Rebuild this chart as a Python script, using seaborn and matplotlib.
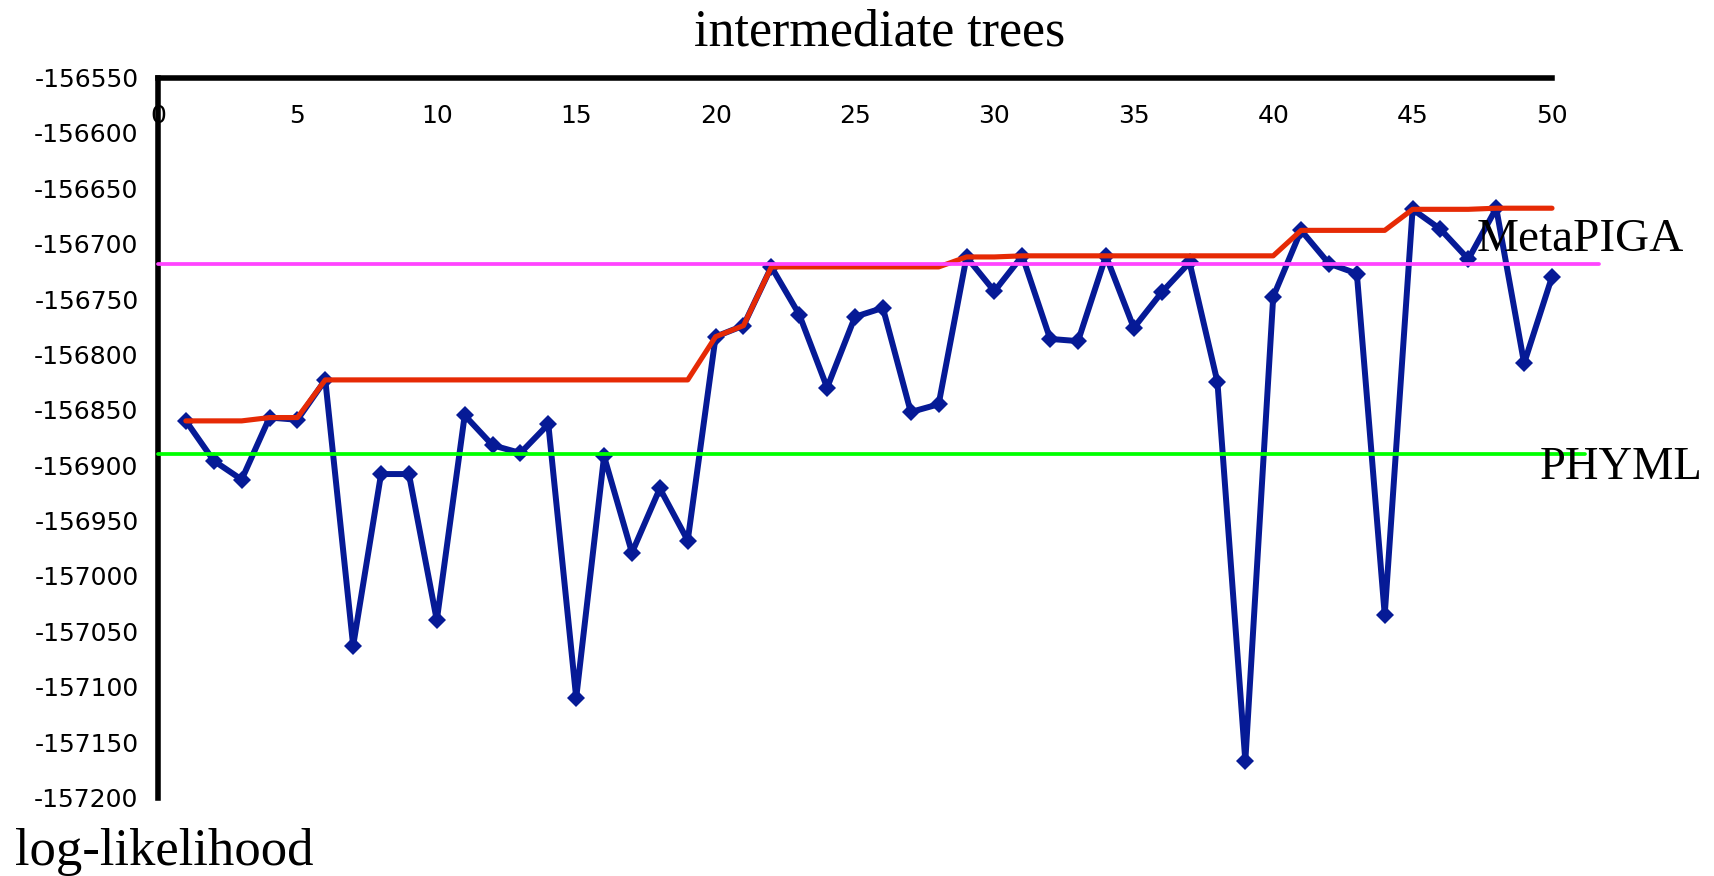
import matplotlib
matplotlib.use("Agg")
import matplotlib.pyplot as plt
import pandas as pd
import seaborn as sns

# Log-likelihood of the intermediate trees (one per generation) and the best value found so far
trees = list(range(1, 51))
intermediate_lnl = [
    -156860, -156896, -156913, -156857, -156859, -156823, -157063, -156908, -156908, -157040,
    -156855, -156882, -156889, -156863, -157110, -156892, -156979, -156921, -156968, -156784,
    -156774, -156721, -156764, -156830, -156766, -156758, -156852, -156845, -156712, -156743,
    -156711, -156786, -156788, -156711, -156776, -156744, -156717, -156825, -157167, -156748,
    -156688, -156718, -156727, -157035, -156669, -156687, -156714, -156668, -156808, -156730,
]
best_lnl = [
    -156860, -156860, -156860, -156857, -156857, -156823, -156823, -156823, -156823, -156823,
    -156823, -156823, -156823, -156823, -156823, -156823, -156823, -156823, -156823, -156784,
    -156774, -156721, -156721, -156721, -156721, -156721, -156721, -156721, -156712, -156712,
    -156711, -156711, -156711, -156711, -156711, -156711, -156711, -156711, -156711, -156711,
    -156688, -156688, -156688, -156688, -156669, -156669, -156669, -156668, -156668, -156668,
]
metapiga_lnl = -156718
phyml_lnl = -156890

x_ticks = [0, 5, 10, 15, 20, 25, 30, 35, 40, 45, 50]
y_ticks = [-157200, -157150, -157100, -157050, -157000, -156950, -156900,
           -156850, -156800, -156750, -156700, -156650, -156600, -156550]
y_tick_labels = ["-157200", "-157150", "-157100", "-157050", "-157000", "-156950", "-156900",
                 "-156850", "-156800", "-156750", "-156700", "-156650", "-156600", "-156550"]

BLUE = "#061A96"
RED = "#E62A05"
PINK = "#FF44FF"
GREEN = "#00FF00"

sns.set_style("white")
plt.rcParams["font.family"] = ["DejaVu Sans"]
plt.rcParams["axes.unicode_minus"] = False
plt.rcParams["text.color"] = "black"

W, H = 1715, 876
fig = plt.figure(figsize=(W / 100, H / 100), dpi=100)
ax = fig.add_axes([158.0 / W, 1 - 797.5 / H, (1552 - 158.0) / W, (797.5 - 77.5) / H])

df = pd.DataFrame({"tree": trees, "lnl": intermediate_lnl, "best": best_lnl})

sns.lineplot(data=df, x="tree", y="lnl", ax=ax, color=BLUE, linewidth=4.3,
             marker="D", markersize=9, markeredgewidth=0, zorder=2, clip_on=False)
sns.lineplot(data=df, x="tree", y="best", ax=ax, color=RED, linewidth=3.7,
             zorder=3, clip_on=False)

ax.axhline(metapiga_lnl, xmin=0, xmax=51.7 / 50, color=PINK, linewidth=2.7,
           clip_on=False, zorder=4)
ax.axhline(phyml_lnl, xmin=0, xmax=51.2 / 50, color=GREEN, linewidth=2.7,
           clip_on=False, zorder=4)

ax.set_xlim(0, 50)
ax.set_ylim(-157200, -156550)
ax.set_xlabel("")
ax.set_ylabel("")

ax.set_xticks(x_ticks)
ax.set_xticklabels([str(t) for t in x_ticks])
ax.set_yticks(y_ticks)
ax.set_yticklabels(y_tick_labels)

# x axis drawn along the top edge, labels hanging below it
ax.spines["bottom"].set_position(("axes", 1.0))
ax.spines["top"].set_visible(False)
ax.spines["right"].set_visible(False)
for side in ("bottom", "left"):
    ax.spines[side].set_linewidth(4)
    ax.spines[side].set_color("black")
    ax.spines[side].set_capstyle("projecting")

ax.tick_params(axis="x", direction="in", length=7, width=3.5, pad=19,
               labelsize=18, colors="black")
ax.tick_params(axis="y", direction="out", length=6.5, width=3.5, pad=7.5,
               labelsize=18, colors="black")
ax.grid(False)

serif = ["Liberation Serif", "DejaVu Serif"]
fig.text(880 / W, 1 - 46 / H, "intermediate trees", ha="center", va="baseline",
         fontsize=37.5, family=serif, color="black")
fig.text(15 / W, 1 - 865 / H, "log-likelihood", ha="left", va="baseline",
         fontsize=38, family=serif, color="black")
fig.text(1477 / W, 1 - 251 / H, "MetaPIGA", ha="left", va="baseline",
         fontsize=34, family=serif, color="black")
fig.text(1540 / W, 1 - 479 / H, "PHYML", ha="left", va="baseline",
         fontsize=33.5, family=serif, color="black")

fig.savefig("out.png", dpi=100, facecolor="white")
